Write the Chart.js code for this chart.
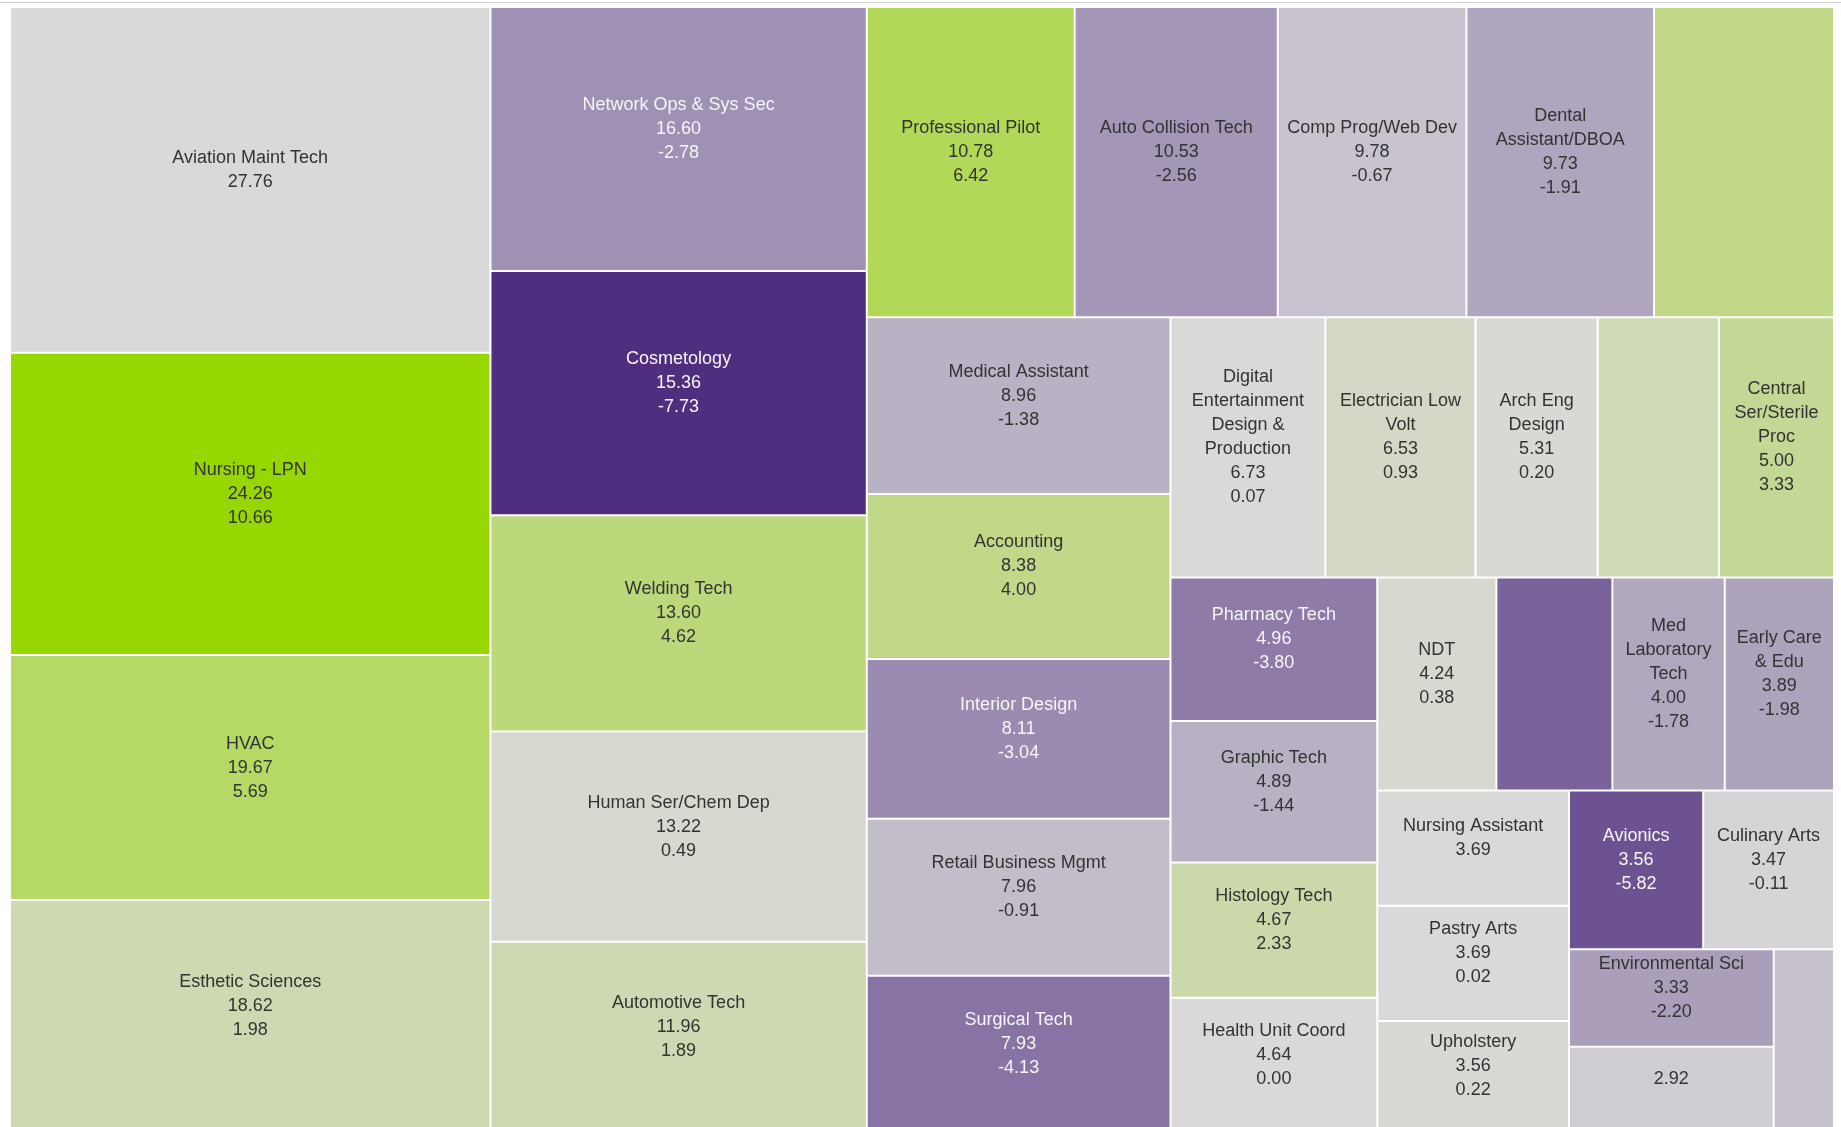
<!DOCTYPE html>
<html>
<head>
<meta charset="utf-8">
<script src="https://cdn.jsdelivr.net/npm/chart.js@4.4.1/dist/chart.umd.min.js"></script>
<style>
  html, body { margin: 0; padding: 0; background: #fff; overflow: hidden; }
  #wrap { width: 1841px; height: 1127px; overflow: hidden; }
  canvas { display: block; }
</style>
</head>
<body>
<div id="wrap"><canvas id="tree" width="1841" height="1135"></canvas></div>
<script>
// programs, sorted by size (largest first)
const categories = [
  'Aviation Maint Tech', 'Nursing - LPN', 'HVAC', 'Esthetic Sciences',
  'Network Ops & Sys Sec', 'Cosmetology', 'Welding Tech', 'Human Ser/Chem Dep', 'Automotive Tech',
  'Professional Pilot', 'Auto Collision Tech', 'Comp Prog/Web Dev', 'Dental Assistant/DBOA', '',
  'Medical Assistant', 'Accounting', 'Interior Design', 'Retail Business Mgmt', 'Surgical Tech',
  'Digital Entertainment Design & Production', 'Electrician Low Volt', 'Arch Eng Design', '', 'Central Ser/Sterile Proc',
  'Pharmacy Tech', 'Graphic Tech', 'Histology Tech', 'Health Unit Coord',
  'NDT', '', 'Med Laboratory Tech', 'Early Care & Edu',
  'Nursing Assistant', 'Pastry Arts', 'Upholstery',
  'Avionics', 'Culinary Arts',
  'Environmental Sci', '',
  ''
];
const sizes = [
  27.76, 24.26, 19.67, 18.62,
  16.60, 15.36, 13.60, 13.22, 11.96,
  10.78, 10.53, 9.78, 9.73, 9.33,
  8.96, 8.38, 8.11, 7.96, 7.93,
  6.73, 6.53, 5.31, 5.27, 5.00,
  4.96, 4.89, 4.67, 4.64,
  4.24, 4.13, 4.00, 3.89,
  3.69, 3.69, 3.56,
  3.56, 3.47,
  3.33, 2.92,
  1.84
];
const changes = [
  null, 10.66, 5.69, 1.98,
  -2.78, -7.73, 4.62, 0.49, 1.89,
  6.42, -2.56, -0.67, -1.91, 3.95,
  -1.38, 4.00, -3.04, -0.91, -4.13,
  0.07, 0.93, 0.20, 1.75, 3.33,
  -3.80, -1.44, 2.33, 0.00,
  0.38, -5.00, -1.78, -1.98,
  null, 0.02, 0.22,
  -5.82, -0.11,
  -2.20, -0.34,
  -0.77
];
// which parts of the label are visible on each cell
const labelMode = categories.map(c => c ? 'full' : 'none');
labelMode[38] = 'size';

// diverging palette: purple (negative) - grey - green (positive)
const MID = [217, 217, 217];
const NEG = [79, 45, 127];
const POS = [151, 215, 0];
const negMax = -Math.min(...changes.filter(v => v !== null));
const posMax = Math.max(...changes.filter(v => v !== null));

function mix(a, b, t) {
  return a.map((c, i) => Math.round(c + (b[i] - c) * t));
}
function rgbFor(v) {
  if (v === null) return MID;
  if (v < 0) return mix(MID, NEG, Math.pow(Math.min(1, -v / negMax), 0.85));
  return mix(MID, POS, Math.min(1, v / posMax));
}
const cellRgb = changes.map(rgbFor);
const cellColors = cellRgb.map(c => `rgb(${c[0]},${c[1]},${c[2]})`);
const textColors = cellRgb.map(c => (0.299 * c[0] + 0.587 * c[1] + 0.114 * c[2]) < 155 ? '#f7f5fa' : '#333333');

// squarified layout, in pixel-proportional units
const MAX_RATIO = 2.44;

function worstRatio(areas, side) {
  const total = areas.reduce((a, b) => a + b, 0);
  const thick = total / side;
  let worst = 0;
  areas.forEach(a => {
    const len = a / thick;
    worst = Math.max(worst, len / thick, thick / len);
  });
  return worst;
}

function squarify(values, width, height) {
  const order = values.map((v, i) => i).sort((a, b) => values[b] - values[a]);
  const total = values.reduce((a, b) => a + b, 0);
  const unit = width * height / total;
  const cells = [];
  let x = 0, y = 0, w = width, h = height, k = 0;
  while (k < order.length) {
    const column = w >= h;
    const side = column ? h : w;
    const row = [order[k]];
    let best = worstRatio([values[order[k]] * unit], side);
    let j = k + 1;
    while (j < order.length) {
      const r = worstRatio(row.concat(order[j]).map(i => values[i] * unit), side);
      if (r > best && r > MAX_RATIO) break;
      row.push(order[j]);
      best = r;
      j++;
    }
    const thick = row.reduce((s, i) => s + values[i] * unit, 0) / side;
    let off = 0;
    row.forEach(i => {
      const len = values[i] * unit / thick;
      cells[i] = column ? { x, y: y + off, w: thick, h: len } : { x: x + off, y, w: len, h: thick };
      off += len;
    });
    if (column) { x += thick; w -= thick; } else { y += thick; h -= thick; }
    k = j;
  }
  return cells;
}

const FONT_SIZE = 18;
const LINE = 24;
const PAD = 6;

function wrap(ctx, text, maxWidth) {
  const words = text.split(' ');
  const lines = [];
  let cur = '';
  words.forEach(word => {
    const next = cur ? cur + ' ' + word : word;
    if (cur && ctx.measureText(next).width > maxWidth) {
      lines.push(cur);
      cur = word;
    } else {
      cur = next;
    }
  });
  if (cur) lines.push(cur);
  return lines;
}

class TreemapController extends Chart.DatasetController {
  static id = 'treemap';
  static defaults = { datasetElementType: false, dataElementType: 'bar' };

  parse() {}

  update(mode) {
    const meta = this._cachedMeta;
    this.updateElements(meta.data, 0, meta.data.length, mode);
  }

  updateElements(rects, start, count, mode) {
    const meta = this._cachedMeta;
    const xScale = meta.xScale;
    const yScale = meta.yScale;
    const cells = squarify(this.getDataset().data, xScale.width, yScale.height);
    for (let i = start; i < start + count; i++) {
      const c = cells[i];
      const left = xScale.getPixelForValue(c.x / xScale.width * 100);
      const right = xScale.getPixelForValue((c.x + c.w) / xScale.width * 100);
      const top = yScale.getPixelForValue(c.y / yScale.height * 100);
      const bottom = yScale.getPixelForValue((c.y + c.h) / yScale.height * 100);
      this.updateElement(rects[i], i, {
        x: (left + right) / 2,
        width: right - left,
        y: top,
        base: bottom,
        height: bottom - top,
        horizontal: false,
        inflateAmount: 0,
        borderSkipped: { top: false, right: false, bottom: false, left: false },
        options: this.resolveDataElementOptions(i, mode)
      }, 'none');
    }
  }

  draw() {
    super.draw();
    const ctx = this.chart.ctx;
    const meta = this._cachedMeta;
    ctx.save();
    ctx.font = `${FONT_SIZE}px "Liberation Sans", Arial, sans-serif`;
    ctx.textAlign = 'center';
    ctx.textBaseline = 'middle';
    meta.data.forEach((el, i) => {
      const mode = labelMode[i];
      if (mode === 'none') return;
      const lines = [];
      if (mode === 'full') lines.push(...wrap(ctx, categories[i], el.width - 2 * PAD));
      lines.push(sizes[i].toFixed(2));
      if (mode === 'full' && changes[i] !== null) lines.push(changes[i].toFixed(2));
      const cy = (el.y + el.base) / 2 + 2;
      const top = cy - (lines.length + 1) * LINE / 2;
      ctx.fillStyle = textColors[i];
      lines.forEach((t, k) => ctx.fillText(t, el.x, top + LINE * (k + 0.5)));
    });
    ctx.restore();
  }
}
Chart.register(TreemapController);

// thin grey rule along the top of the view
const topRule = {
  id: 'topRule',
  beforeDraw(chart) {
    const ctx = chart.ctx;
    ctx.save();
    ctx.fillStyle = '#d2d2d2';
    ctx.fillRect(0, 2, chart.width, 1);
    ctx.restore();
  }
};

new Chart(document.getElementById('tree'), {
  type: 'treemap',
  data: {
    labels: categories,
    datasets: [{
      label: 'Programs',
      data: sizes,
      backgroundColor: cellColors,
      borderColor: '#ffffff',
      borderWidth: 1
    }]
  },
  options: {
    responsive: false,
    animation: false,
    events: [],
    layout: { padding: { left: 10, top: 7, right: 7, bottom: 3 } },
    scales: {
      x: { type: 'linear', min: 0, max: 100, display: false },
      y: { type: 'linear', min: 0, max: 100, reverse: true, display: false }
    },
    plugins: {
      legend: { display: false },
      tooltip: { enabled: false }
    }
  },
  plugins: [topRule]
});
</script>
</body>
</html>
